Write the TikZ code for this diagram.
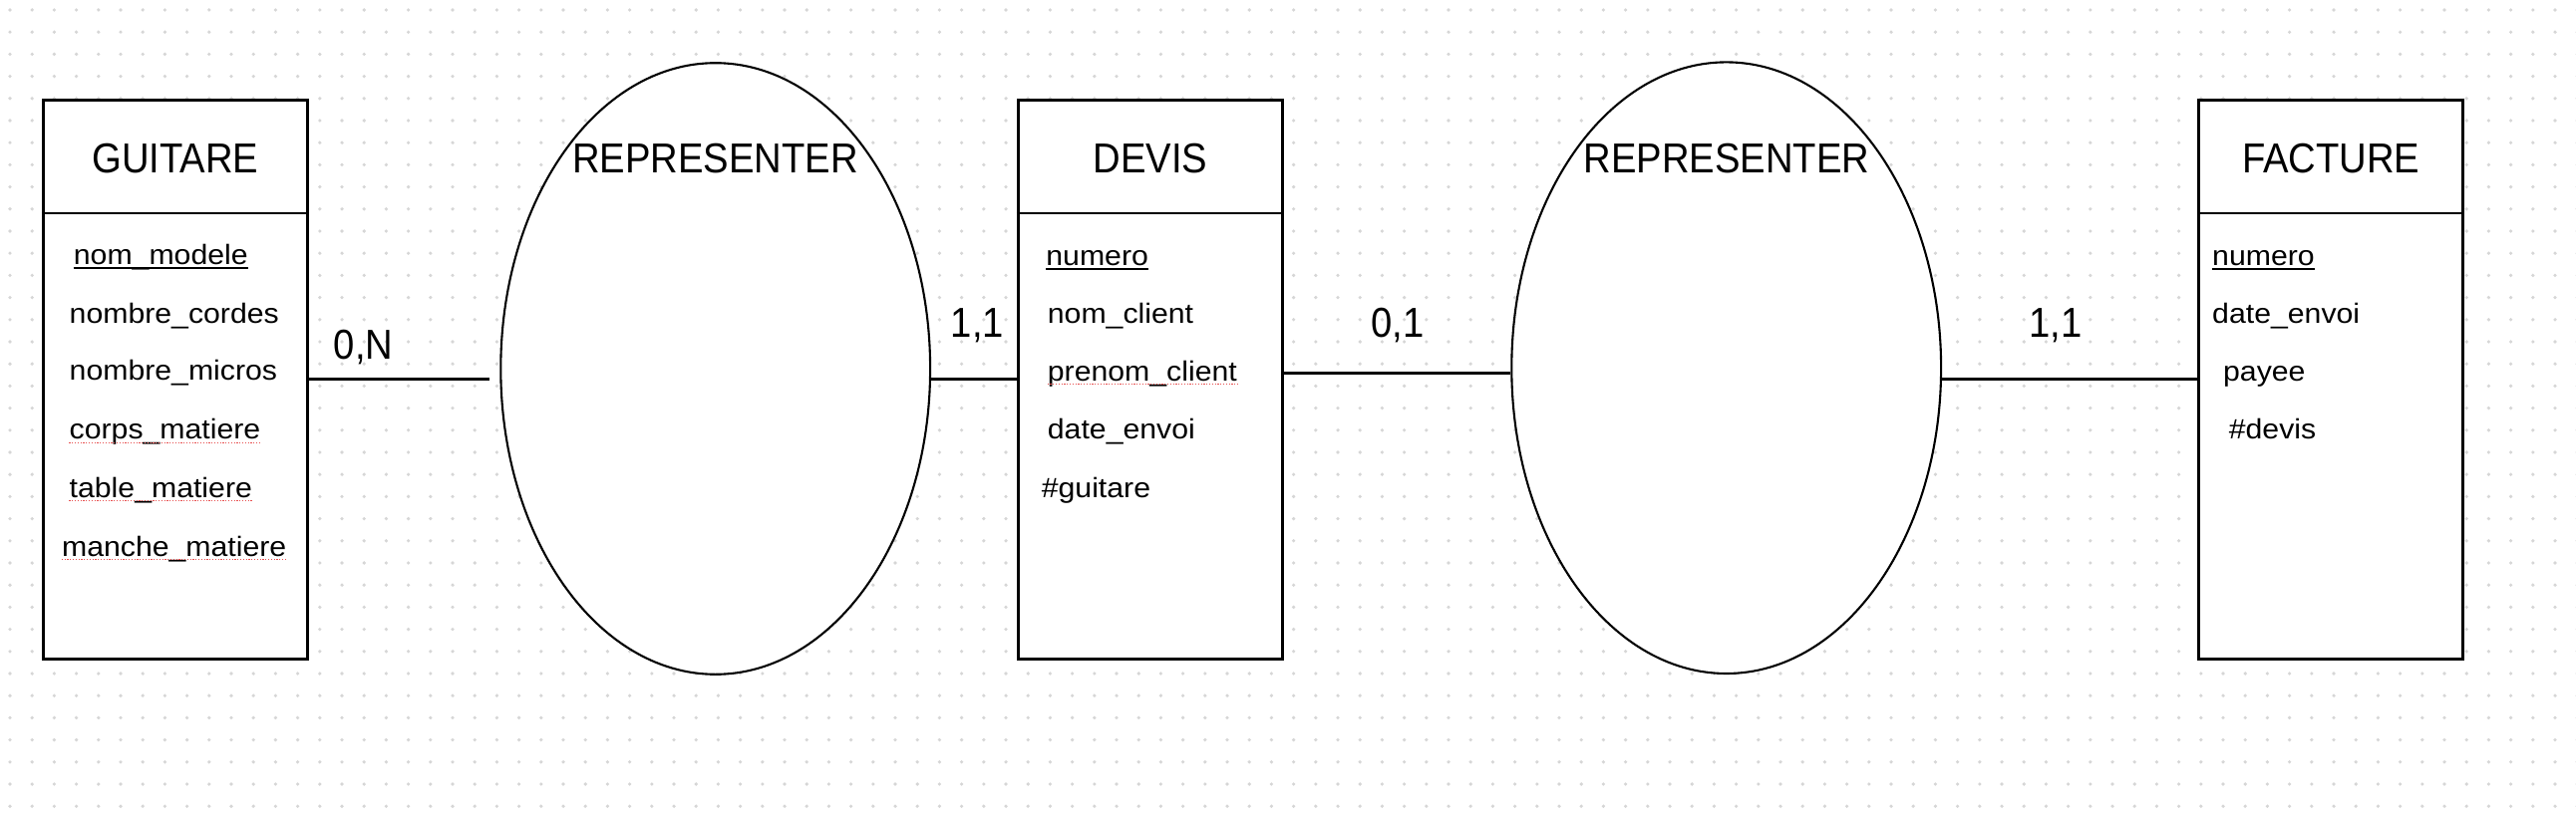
\documentclass[tikz,border=0pt]{standalone}
\usepackage{fontspec}
\setmainfont{Liberation Sans}
\newfontfamily\titlef[FakeStretch=0.91]{Liberation Sans}
\newfontfamily\attrf[FakeStretch=1.08]{Liberation Sans}
\usetikzlibrary{shapes.geometric,calc}
\definecolor{dotc}{HTML}{D6D6D6}
\definecolor{spellred}{HTML}{E85050}
\tikzset{
  entbox/.style={draw=black, line width=1.4pt, fill=white, rectangle, inner sep=0pt,
     minimum width=132.6pt, minimum height=280.6pt},
  assoc/.style={draw=black, line width=1.05pt, fill=white, ellipse, inner sep=0pt,
     minimum width=215.4pt, minimum height=306.8pt},
  ttl/.style={anchor=base, inner sep=0pt, font=\titlef\fontsize{21}{24}\selectfont},
  card/.style={anchor=base, inner sep=0pt, font=\titlef\fontsize{21}{24}\selectfont},
  attr/.style={anchor=base west, inner sep=0pt, font=\attrf\fontsize{14}{17}\selectfont},
  link/.style={draw=black, line width=1.35pt},
  divline/.style={draw=black, line width=1.35pt},
  ulline/.style={draw=black, line width=0.65pt},
  spell/.style={draw=spellred, line width=0.6pt, dash pattern=on 0.6pt off 0.8pt}
}
\begin{document}
\begin{tikzpicture}[x=0.5pt,y=-0.5pt]
\useasboundingbox (0,0) rectangle (2584,818);
\fill[white] (0,0) rectangle (2584,818);
% dotted background
\foreach \j in {0,...,36} {
  \fill[dotc] \foreach \i in {0,...,116} { ({10+22.2*\i},{10+22.2*\j}) circle (0.9pt) };
}

% entities
\node[entbox] (guitare) at (175.9,380.8) {};
\node[entbox] (devis) at (1153.8,380.8) {};
\node[entbox] (facture) at (2338.2,380.8) {};
\draw[divline] (guitare.west |- 0,213.9) -- (guitare.east |- 0,213.9);
\draw[divline] (devis.west |- 0,213.9) -- (devis.east |- 0,213.9);
\draw[divline] (facture.west |- 0,213.9) -- (facture.east |- 0,213.9);

% associations
\node[assoc] (ell1) at (717.7,370) {};
\node[assoc] (ell2) at (1731.7,369.2) {};

% titles
\node[ttl] (tguitare) at (175.9,173.7) {GUITARE};
\node[ttl] (tdevis) at (1153.8,173.7) {DEVIS};
\node[ttl] (tfacture) at (2338.2,173.7) {FACTURE};
\node[ttl] (trep1) at (717.5,173.7) {REPRESENTER};
\node[ttl] (trep2) at (1732,173.7) {REPRESENTER};

% connectors
\coordinate (c1) at (491,380.8);
\draw[link] (guitare.east) -- (c1);
\draw[link] (ell1.east |- devis.west) -- (devis.west);
\coordinate (c3) at ($(devis.east)+(0,-6)$);
\draw[link] (c3) -- (c3 -| ell2.west);
\draw[link] (facture.west -| ell2.east) -- (facture.west);

% cardinalities
\node[card] (k1) at (364.6,360) {0,N};
\node[card] (k2) at (980.4,338) {1,1};
\node[card] (k3) at (1401.8,338) {0,1};
\node[card] (k4) at (2062,338) {1,1};

% GUITARE attributes
\node[attr] (g1) at (73.5,265) {nom\_modele};
\node[attr] (g2) at (69.3,324) {nombre\_cordes};
\node[attr] (g3) at (69.3,381.7) {nombre\_micros};
\node[attr] (g4) at (69.3,440.7) {corps\_matiere};
\node[attr] (g5) at (69.3,499.3) {table\_matiere};
\node[attr] (g6) at (61.7,558.3) {manche\_matiere};
\draw[ulline] ($(g1.base west)+(0,4)$) -- ($(g1.base east)+(0,4)$);
\draw[spell] ($(g4.base west)+(0,3.5)$) -- ($(g4.base east)+(0,3.5)$);
\draw[spell] ($(g5.base west)+(0,3.5)$) -- ($(g5.base east)+(0,3.5)$);
\draw[spell] ($(g6.base west)+(0,3.5)$) -- ($(g6.base east)+(0,3.5)$);

% DEVIS attributes
\node[attr] (d1) at (1049,266) {numero};
\node[attr] (d2) at (1050.5,324.5) {nom\_client};
\node[attr] (d3) at (1050.5,382) {prenom\_client};
\node[attr] (d4) at (1050.5,440.8) {date\_envoi};
\node[attr] (d5) at (1044.4,499) {\#guitare};
\draw[ulline] ($(d1.base west)+(0,4)$) -- ($(d1.base east)+(0,4)$);
\draw[spell] ($(d3.base west)+(0,3.5)$) -- ($(d3.base east)+(0,3.5)$);

% FACTURE attributes
\node[attr] (f1) at (2218.8,266) {numero};
\node[attr] (f2) at (2218.8,324.5) {date\_envoi};
\node[attr] (f3) at (2229.7,382) {payee};
\node[attr] (f4) at (2235.4,440.8) {\#devis};
\draw[ulline] ($(f1.base west)+(0,4)$) -- ($(f1.base east)+(0,4)$);
\end{tikzpicture}
\end{document}
